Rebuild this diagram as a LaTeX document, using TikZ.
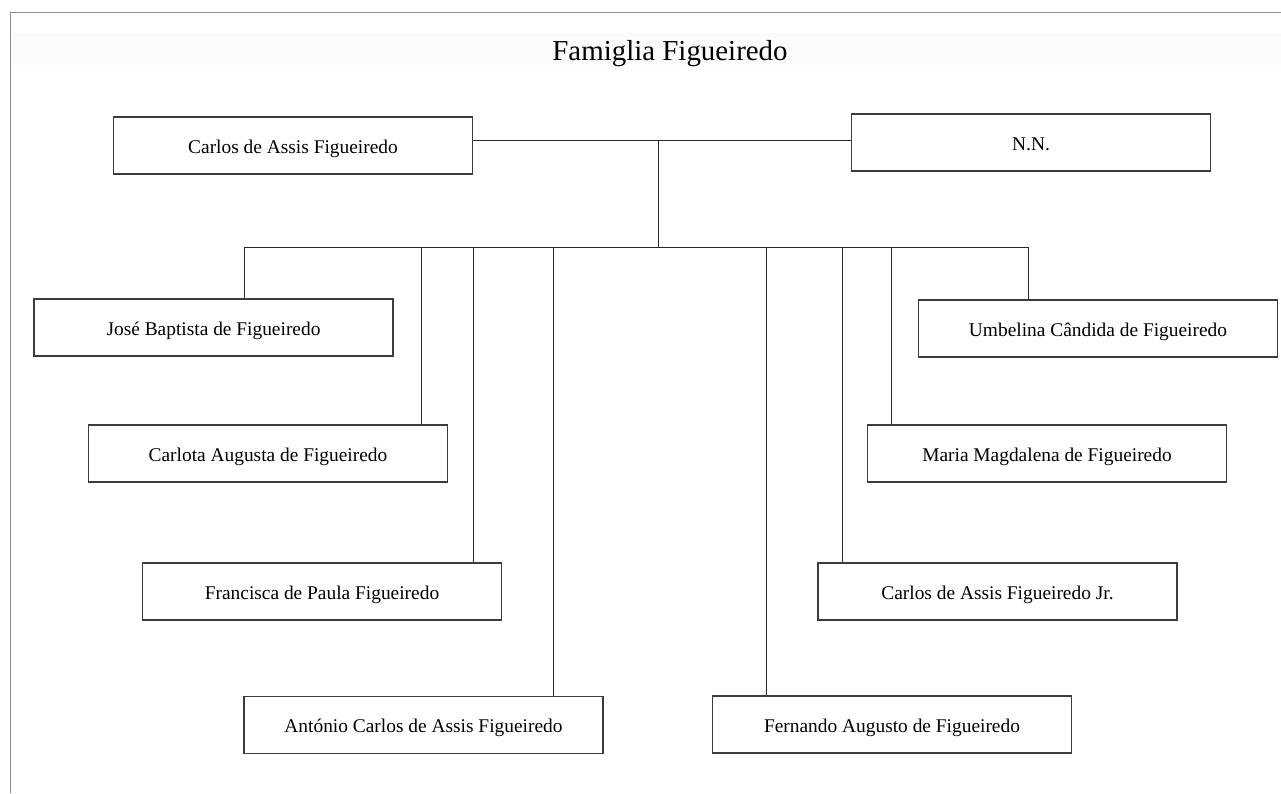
\documentclass[tikz,border=0pt]{standalone}
\usepackage{fontspec}
\setmainfont{Liberation Serif}
\definecolor{frameg}{RGB}{140,140,140}
\definecolor{boxg}{RGB}{60,60,60}
\definecolor{lineg}{RGB}{40,40,40}
\begin{document}
\begin{tikzpicture}[x=1pt,y=-1pt,
  person/.style={draw=boxg, line width=1.2pt, fill=white, minimum width=359pt, minimum height=57pt, inner sep=0pt, text height=19pt, text depth=4pt, font=\fontsize{19.4}{23}\selectfont},
  link/.style={draw=lineg, line width=1pt}]
\useasboundingbox (0,0) rectangle (1281,793);
% page frame and title band
\fill[black!1.5] (10,33) rectangle (1281,65);
\draw[frameg, line width=1pt] (10,793) -- (10,12) -- (1281,12);
\node[anchor=base, font=\fontsize{28.9}{34}\selectfont, inner sep=0pt] (title) at (670,60) {Famiglia Figueiredo};
% parents
\node[person] (carlos) at (293,145.5) {Carlos de Assis Figueiredo};
\node[person] (nn) at (1031,142.5) {N.N.};
% children
\node[person] (jose) at (213.5,327.5) {José Baptista de Figueiredo};
\node[person] (carlota) at (268,453.5) {Carlota Augusta de Figueiredo};
\node[person] (francisca) at (322,591.5) {Francisca de Paula Figueiredo};
\node[person] (antonio) at (423.5,725) {António Carlos de Assis Figueiredo};
\node[person] (fernando) at (892,724.5) {Fernando Augusto de Figueiredo};
\node[person] (carlosjr) at (997.5,591.5) {Carlos de Assis Figueiredo Jr.};
\node[person] (maria) at (1047,453.5) {Maria Magdalena de Figueiredo};
\node[person] (umbelina) at (1098,328.5) {Umbelina Cândida de Figueiredo};
% junction coordinates
\coordinate (m) at (658,140);
\coordinate (s) at (658,247);
\coordinate (b1) at (244,247);
\coordinate (b2) at (421,247);
\coordinate (b3) at (473,247);
\coordinate (b4) at (553,247);
\coordinate (b5) at (766,247);
\coordinate (b6) at (842,247);
\coordinate (b7) at (891,247);
\coordinate (b8) at (1028,247);
% connectors
\draw[link] (carlos.east |- m) -- (nn.west |- m);
\draw[link] (m) -- (s);
\draw[link] (b1) -- (b8);
\draw[link] (b1) -- (b1 |- jose.north);
\draw[link] (b2) -- (b2 |- carlota.north);
\draw[link] (b3) -- (b3 |- francisca.north);
\draw[link] (b4) -- (b4 |- antonio.north);
\draw[link] (b5) -- (b5 |- fernando.north);
\draw[link] (b6) -- (b6 |- carlosjr.north);
\draw[link] (b7) -- (b7 |- maria.north);
\draw[link] (b8) -- (b8 |- umbelina.north);
\end{tikzpicture}
\end{document}
